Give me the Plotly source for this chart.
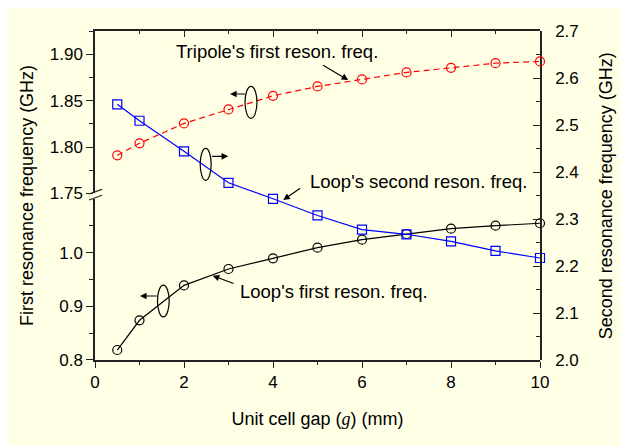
import plotly.graph_objects as go

# ---- data ----
gap_mm = [0.5, 1, 2, 3, 4, 5, 6, 7, 8, 9, 10]
tripole_first = [1.791, 1.804, 1.8255, 1.8406, 1.8553, 1.8654, 1.873, 1.8806, 1.8855, 1.8906, 1.8924]
loop_second = [2.544, 2.509, 2.444, 2.377, 2.343, 2.3075, 2.2775, 2.2675, 2.2525, 2.232, 2.217]
loop_first = [0.8186, 0.874, 0.939, 0.9696, 0.9895, 1.0093, 1.0242, 1.0348, 1.0447, 1.0503, 1.0548]

x_ticks = [0, 2, 4, 6, 8, 10]
left_upper_ticks = [1.75, 1.80, 1.85, 1.90]
left_lower_ticks = [0.8, 0.9, 1.0]
right_ticks = [2.0, 2.1, 2.2, 2.3, 2.4, 2.5, 2.6, 2.7]

FONT = "Arial, Liberation Sans, sans-serif"
CREAM = "#FFFFE6"
AXC = "#222222"

fig = go.Figure()

fig.add_trace(go.Scatter(
    x=gap_mm, y=loop_first, xaxis="x", yaxis="y", mode="lines+markers",
    line=dict(color="black", width=1.2),
    marker=dict(symbol="circle-open", size=9, color="black", line=dict(width=1.2)),
    cliponaxis=False, showlegend=False))
fig.add_trace(go.Scatter(
    x=gap_mm, y=loop_second, xaxis="x", yaxis="y2", mode="lines+markers",
    line=dict(color="#0000FF", width=1.2),
    marker=dict(symbol="square-open", size=9, color="#0000FF", line=dict(width=1.2)),
    cliponaxis=False, showlegend=False))
fig.add_trace(go.Scatter(
    x=gap_mm, y=tripole_first, xaxis="x2", yaxis="y3", mode="lines+markers",
    line=dict(color="#FF0000", width=1.2, dash="6px,4px"),
    marker=dict(symbol="circle-open", size=9, color="#FF0000", line=dict(width=1.2)),
    cliponaxis=False, showlegend=False))

tickfont = dict(family=FONT, size=17, color="black")

common_line = dict(showline=True, linecolor=AXC, linewidth=1.5, showgrid=False, zeroline=False)

fig.update_layout(
    width=621, height=438,
    margin=dict(l=87, r=89, t=23, b=86),
    paper_bgcolor="white",
    plot_bgcolor="rgba(0,0,0,0)",
    font=dict(family=FONT, size=17, color="black"),
    xaxis=dict(
        range=[0, 10], tickvals=x_ticks, ticks="outside", ticklen=6, tickwidth=1.2,
        tickcolor=AXC, tickfont=tickfont, anchor="y",
        minor=dict(dtick=1, ticks="outside", ticklen=3, tickcolor=AXC),
        title=dict(text='Unit cell gap (<span style="font-family:Times New Roman, Liberation Serif, serif"><i>g</i></span>) (mm)',
                   font=dict(family=FONT, size=18), standoff=21),
        **common_line),
    xaxis2=dict(
        range=[0, 10], overlaying="x", side="top", anchor="y3",
        tickvals=x_ticks, ticks="inside", ticklen=6, tickwidth=1.2, tickcolor=AXC,
        showticklabels=False,
        minor=dict(dtick=1, ticks="inside", ticklen=3, tickcolor=AXC),
        **common_line),
    yaxis=dict(
        domain=[0, 0.4894], range=[0.8, 1.10], anchor="x", side="left",
        tickvals=left_lower_ticks, ticktext=[f"{v:.1f}" for v in left_lower_ticks],
        ticks="outside", ticklen=7, tickwidth=1.2, tickcolor=AXC, tickfont=tickfont,
        minor=dict(tickvals=[0.85, 0.95, 1.05], ticks="outside", ticklen=4, tickcolor=AXC),
        **common_line),
    yaxis3=dict(
        domain=[0.5067, 1], range=[1.75, 1.9253], anchor="x", side="left",
        tickvals=left_upper_ticks, ticktext=[f"{v:.2f}" for v in left_upper_ticks],
        ticks="outside", ticklen=7, tickwidth=1.2, tickcolor=AXC, tickfont=tickfont,
        minor=dict(tickvals=[1.775, 1.825, 1.875, 1.925], ticks="outside", ticklen=4, tickcolor=AXC),
        **common_line),
    yaxis2=dict(
        domain=[0, 1], range=[2.0, 2.7], anchor="x", side="right",
        tickvals=right_ticks, ticktext=[f"{v:.1f}" for v in right_ticks],
        ticks="inside", ticklen=7, tickwidth=1.2, tickcolor=AXC, tickfont=tickfont,
        ticklabelstandoff=10,
        minor=dict(dtick=0.05, ticks="inside", ticklen=4, tickcolor=AXC),
        **common_line),
)

# background panel
shapes = [dict(type="rect", xref="paper", yref="paper", x0=-0.25, x1=1.25, y0=-0.3, y1=1.1,
               fillcolor=CREAM, line=dict(width=0), layer="below")]
# axis break marks
for (x0, y0, x1, y1) in [(-0.0135, 0.5046, 0.0157, 0.5188), (-0.0135, 0.4863, 0.0157, 0.5006)]:
    shapes.append(dict(type="line", xref="paper", yref="paper", x0=x0, y0=y0, x1=x1, y1=y1,
                       line=dict(color=AXC, width=1.2)))
# ellipses
for (x0, x1, y0, y1) in [(0.3371, 0.3640, 0.7347, 0.8319),
                         (0.2364, 0.2611, 0.5462, 0.6435),
                         (0.1404, 0.1667, 0.1313, 0.2274)]:
    shapes.append(dict(type="circle", xref="paper", yref="paper", x0=x0, x1=x1, y0=y0, y1=y1,
                       line=dict(color="black", width=1.2), fillcolor="rgba(0,0,0,0)"))
fig.update_layout(shapes=shapes)

ann = []
for (txt, x, y) in [("Tripole's first reson. freq.", 0.409, 0.939),
                    ("Loop's second reson. freq.", 0.726, 0.544),
                    ("Loop's first reson. freq.", 0.538, 0.2076)]:
    ann.append(dict(text=txt, x=x, y=y, xref="paper", yref="paper", showarrow=False,
                    xanchor="center", yanchor="middle", font=dict(family=FONT, size=18.5, color="black")))
for (x, y, ax, ay) in [(0.569, 0.851, -26.6, -15.7),
                       (0.3034, 0.8085, 16.7, 0),
                       (0.2993, 0.619, -17.6, 0),
                       (0.4231, 0.4863, 18.4, -12.7),
                       (0.2645, 0.2562, 22.3, 8.3),
                       (0.1011, 0.1945, 18.3, 0)]:
    ann.append(dict(text="", x=x, y=y, xref="paper", yref="paper", ax=ax, ay=ay,
                    showarrow=True, arrowhead=2, arrowsize=1.1, arrowwidth=1.2, arrowcolor="black"))
# axis titles
ann.append(dict(text="First resonance frequency (GHz)", x=-0.154, y=0.5, xref="paper", yref="paper",
                textangle=-90, showarrow=False, xanchor="center", yanchor="middle",
                font=dict(family=FONT, size=18, color="black")))
ann.append(dict(text="Second resonance frequency (GHz)", x=1.148, y=0.5, xref="paper", yref="paper",
                textangle=-90, showarrow=False, xanchor="center", yanchor="middle",
                font=dict(family=FONT, size=18, color="black")))
fig.update_layout(annotations=ann)

fig.write_html("out.html")
